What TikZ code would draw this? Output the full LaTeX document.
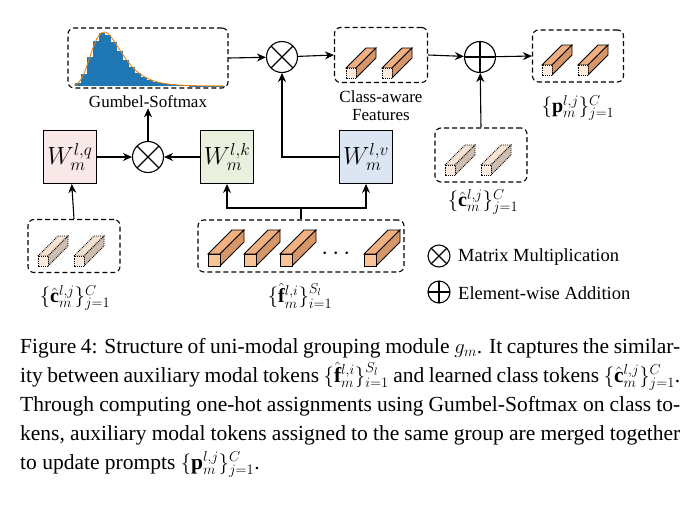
\documentclass[tikz,border=0pt]{standalone}
\usepackage{fontspec}
\setmainfont{Liberation Serif}
\usepackage{amsmath}
\usetikzlibrary{arrows.meta}
\definecolor{tokfront}{RGB}{248,196,150}
\definecolor{toktop}{RGB}{240,176,128}
\definecolor{tokside}{RGB}{214,150,104}
\definecolor{palefront}{RGB}{253,236,222}
\definecolor{paletop}{RGB}{245,228,212}
\definecolor{paleside}{RGB}{205,190,176}
\definecolor{histblue}{RGB}{31,119,180}
\definecolor{wq}{RGB}{248,232,232}
\definecolor{wk}{RGB}{234,240,222}
\definecolor{wv}{RGB}{220,230,242}
% token cuboid: x, y (front bottom-left), size, depth, front style, top style, side style
\newcommand\tokcube[7]{%
  \draw[#6] (#1,#2-#3) -- (#1+#4,#2-#3-#4) -- (#1+#3+#4,#2-#3-#4) -- (#1+#3,#2-#3) -- cycle;
  \draw[#7] (#1+#3,#2) -- (#1+#3+#4,#2-#4) -- (#1+#3+#4,#2-#3-#4) -- (#1+#3,#2-#3) -- cycle;
  \draw[#5] (#1,#2) rectangle (#1+#3,#2-#3);}
\tikzset{
  group/.style={draw, dashed, line width=1.1pt, rounded corners=6pt, dash pattern=on 5pt off 3pt},
  wbox/.style={draw, line width=1pt, minimum width=53pt, minimum height=53pt, inner sep=0pt, font=\fontsize{24}{25}\selectfont},
  op/.style={draw, line width=1.1pt, circle, minimum size=31pt, inner sep=0pt},
  arr/.style={-{Stealth[length=9pt,width=8pt]}, line width=1.1pt},
  lbl/.style={font=\fontsize{17}{18}\selectfont, inner sep=0pt, align=center},
  mlbl/.style={font=\fontsize{20}{21}\selectfont, inner sep=0pt},
  solidf/.style={fill=tokfront, draw, line width=0.8pt},
  solidt/.style={fill=toktop, draw, line width=0.8pt},
  solids/.style={fill=tokside, draw, line width=0.8pt},
  palef/.style={fill=palefront, draw, densely dotted, line width=0.9pt},
  palet/.style={fill=paletop, draw, densely dotted, line width=0.9pt},
  pales/.style={fill=paleside, draw, densely dotted, line width=0.9pt},
}
\newcommand\otimessym[2]{\draw[line width=1.1pt] (#1) ++(-#2*0.707,-#2*0.707) -- ++(#2*1.414,#2*1.414) (#1) ++(-#2*0.707,#2*0.707) -- ++(#2*1.414,-#2*1.414);}
\newcommand\oplussym[2]{\draw[line width=1.1pt] (#1) ++(-#2,0) -- ++(2*#2,0) (#1) ++(0,-#2) -- ++(0,2*#2);}
\begin{document}
\begin{tikzpicture}[x=1pt, y=-1pt]
\useasboundingbox (0,0) rectangle (699,509);

% histogram
\node[group, minimum width=160pt, minimum height=60pt] (hist) at (148,58) {};
\foreach \x in {75,81,...,219} {
  \pgfmathsetmacro\z{(\x+3-104)/15}
  \pgfmathsetmacro\h{53*exp(1)*exp(-(\z+exp(-\z)))}
  \fill[histblue] (\x,86) rectangle (\x+6,86-\h);
}
\draw[orange!80!brown, line width=0.9pt, smooth, domain=74:224, samples=60]
  plot (\x, {86-54*exp(1)*exp(-((\x-104)/15+exp(-(\x-104)/15)))});
\node[lbl] (gumbel) at (148,102) {Gumbel-Softmax};

% top row
\node[op] (mul1) at (282,57) {};
\otimessym{mul1}{15.5}
\node[group, minimum width=93pt, minimum height=55pt] (cls) at (381,55) {};
\tokcube{346}{78}{10}{20}{palef}{solidt}{solids}
\tokcube{382}{78}{10}{20}{palef}{solidt}{solids}
\node[lbl] (clslbl) at (381,106) {Class-aware\\Features};
\node[op] (add1) at (480,57) {};
\oplussym{add1}{15.5}
\node[group, minimum width=91pt, minimum height=52pt] (pbox) at (578,56) {};
\tokcube{542}{75}{10}{20}{palef}{solidt}{solids}
\tokcube{578}{75}{10}{20}{palef}{solidt}{solids}
\node[mlbl] (plbl) at (578,108) {$\{\mathbf{p}^{l,j}_m\}^{C}_{j=1}$};

\node[group, minimum width=92pt, minimum height=54pt] (cright) at (481,155) {};
\tokcube{445}{175}{10}{20}{palef}{palet}{pales}
\tokcube{481}{175}{10}{20}{palef}{palet}{pales}
\node[mlbl] (crlbl) at (483,202) {$\{\hat{\mathbf{c}}^{l,j}_m\}^{C}_{j=1}$};

% projections
\node[wbox, fill=wq] (wq) at (70,157) {$W^{l,q}_m$};
\node[wbox, fill=wk] (wk) at (227,157) {$W^{l,k}_m$};
\node[wbox, fill=wv] (wv) at (366,157) {$W^{l,v}_m$};
\node[op] (mul2) at (148,157) {};
\otimessym{mul2}{15.5}

% inputs
\node[group, minimum width=92pt, minimum height=53pt] (cleft) at (74,246) {};
\tokcube{38}{266}{10}{20}{palef}{palet}{pales}
\tokcube{74}{266}{10}{20}{palef}{palet}{pales}
\node[mlbl] (cllbl) at (75,298) {$\{\hat{\mathbf{c}}^{l,j}_m\}^{C}_{j=1}$};
\node[group, minimum width=206pt, minimum height=52pt] (fbox) at (301,246) {};
\tokcube{208}{266}{12}{24}{solidf}{solidt}{solids}
\tokcube{244}{266}{12}{24}{solidf}{solidt}{solids}
\tokcube{280}{266}{12}{24}{solidf}{solidt}{solids}
\tokcube{364}{266}{12}{24}{solidf}{solidt}{solids}
\node[font=\fontsize{24}{24}\selectfont] (dots) at (338,254) {$\cdots$};
\node[mlbl] (fllbl) at (300,296) {$\{\hat{\mathbf{f}}^{l,i}_m\}^{S_l}_{i=1}$};

% connectors
\draw[arr] (hist.east) -- (mul1);
\draw[arr] (mul1) -- (cls.west);
\draw[arr] (cls.east) -- (add1);
\draw[arr] (add1) -- (pbox.west);
\draw[arr] (cright.north) -- (add1);
\draw[arr] (wq) -- (mul2);
\draw[arr] (wk) -- (mul2);
\draw[arr] (mul2) -- (gumbel.south);
\draw[arr] (cleft.north) -- (wq);
\draw[arr] (wv.west) -| (mul1);
\coordinate (fork) at (fbox.north |- 0,208);
\draw[line width=1.1pt] (fbox.north) -- (fork);
\draw[arr] (fork) -| (wk.south);
\draw[arr] (fork) -| (wv.south);

% legend
\node[op, minimum size=22pt] (lmul) at (439,256) {};
\otimessym{lmul}{11}
\node[anchor=west, font=\fontsize{18.5}{19}\selectfont, inner sep=0pt] (lmultxt) at (458,257) {Matrix Multiplication};
\node[op, minimum size=22pt] (ladd) at (439,292) {};
\oplussym{ladd}{11}
\node[anchor=west, font=\fontsize{18.5}{19}\selectfont, inner sep=0pt] (laddtxt) at (458,293) {Element-wise Addition};

% caption
\node[anchor=north west, inner sep=0pt, text width=660pt, align=justify,
  font=\fontsize{21.5}{29}\selectfont] (caption) at (20,338)
  {Figure 4: Structure of uni-modal grouping module $g_m$. It captures the similarity between auxiliary modal tokens $\{\hat{\mathbf{f}}^{l,i}_m\}^{S_l}_{i=1}$ and learned class tokens $\{\hat{\mathbf{c}}^{l,j}_m\}^{C}_{j=1}$. Through com\-puting one-hot assignments using Gumbel-Softmax on class tokens, auxiliary modal tokens assigned to the same group are merged together to update prompts $\{\mathbf{p}^{l,j}_m\}^{C}_{j=1}$.};
\end{tikzpicture}
\end{document}
